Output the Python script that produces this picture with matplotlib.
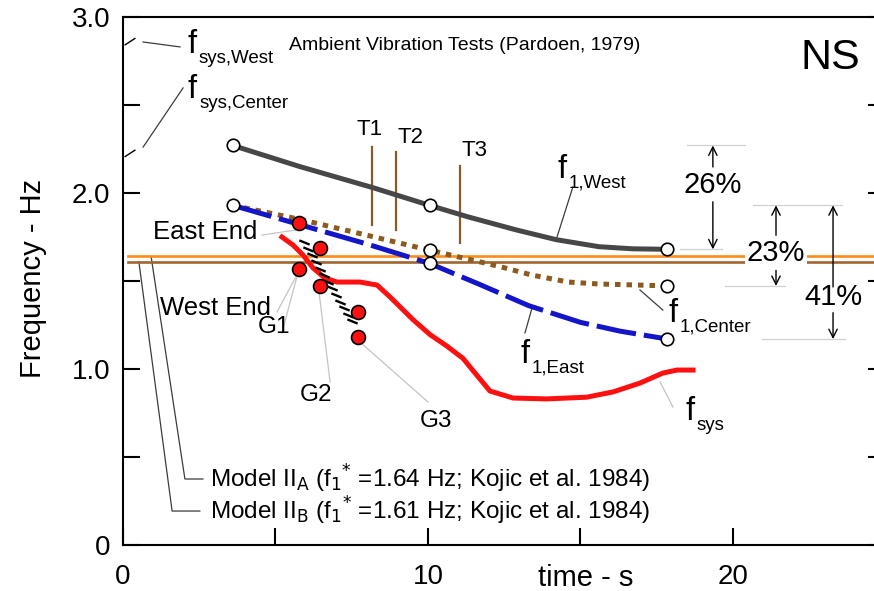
import matplotlib
matplotlib.use("Agg")
import matplotlib.pyplot as plt
import numpy as np

plt.rcParams["font.family"] = ["Liberation Sans", "DejaVu Sans"]
plt.rcParams["mathtext.fontset"] = "custom"
plt.rcParams["mathtext.rm"] = "Liberation Sans Narrow"

# first-mode frequency estimates along the building (time in s, frequency in Hz)
WEST_T = [3.6, 5.8, 8.2, 10.05, 11.3, 12.9, 14.2, 15.6, 16.7, 17.85]
WEST_F = [2.27, 2.15, 2.03, 1.93, 1.865, 1.79, 1.735, 1.695, 1.683, 1.68]

CENTER_T = [3.6, 5.8, 8.0, 10.05, 11.3, 12.4, 13.4, 14.6, 15.6, 16.7, 17.85]
CENTER_F = [1.93, 1.85, 1.76, 1.675, 1.625, 1.58, 1.534, 1.494, 1.483, 1.478, 1.472]

EAST_T = [3.6, 5.8, 8.0, 10.05, 11.7, 13.3, 15.0, 16.3, 17.85]
EAST_F = [1.93, 1.82, 1.71, 1.60, 1.48, 1.36, 1.265, 1.215, 1.17]

SYS_T = [5.21, 5.57, 5.9, 6.23, 6.62, 7.02, 7.77, 8.33, 8.75, 9.51, 10.07, 10.62,
         11.15, 11.48, 12.03, 12.79, 13.9, 15.21, 16.07, 16.95, 17.7, 18.16, 18.69]
SYS_F = [1.75, 1.705, 1.648, 1.574, 1.517, 1.494, 1.494, 1.477, 1.41, 1.28, 1.195, 1.13,
         1.06, 0.99, 0.875, 0.835, 0.83, 0.84, 0.87, 0.92, 0.977, 0.994, 0.994]

# strong-motion estimates G1..G3 at the two ends
G_T = [5.77, 6.45, 7.72]
G_EAST_F = [1.83, 1.688, 1.324]
G_WEST_F = [1.568, 1.472, 1.18]

# model predictions (Kojic et al. 1984)
MODEL_NAMES = ["A", "B"]
MODEL_F = [1.64, 1.61]

# T1..T3 markers
T_NAMES = ["T1", "T2", "T3"]
T_X = [8.18, 8.94, 11.05]
T_TOP = [2.26, 2.233, 2.153]
T_BOTTOM = [1.82, 1.79, 1.716]

# f_sys at t = 0 (West, Center)
FSYS0_F = [2.86, 2.225]

PCT_LABELS = ["26%", "23%", "41%"]

fig = plt.figure(figsize=(8.74, 5.91), dpi=100)
ax = fig.add_axes([123 / 874, 46 / 591, 762.5 / 874, 528 / 591])
ax.set_xlim(0, 25)
ax.set_ylim(0, 3)

ax.set_xticks([0, 5, 10, 15, 20, 25])
ax.set_xticklabels(["0", "", "10", "", "20", ""])
ax.set_yticks(np.arange(0, 3.01, 0.5))
ax.set_yticklabels(["0", "", "1.0", "", "2.0", "", "3.0"])
ax.tick_params(direction="in", length=12.5, width=1.5, labelsize=20, right=True, top=False)
ax.tick_params(axis="y", pad=9)
ax.tick_params(axis="x", pad=14)
for s in ax.spines.values():
    s.set_linewidth(1.5)
ax.spines["right"].set_visible(False)

fig.text(33 / 874, 1 - 278 / 591, "Frequency - Hz", rotation=90, fontsize=21, ha="center", va="center")
fig.text(586 / 874, 1 - 578 / 591, "time - s", fontsize=21, ha="center", va="center")

# model lines
model_colors = ["#ff8c1a", "#a0662e"]
for f, c in zip(MODEL_F, model_colors):
    ax.plot([0.16, 25], [f, f], color=c, lw=1.9, zorder=2)

# mode curves
ax.plot(WEST_T, WEST_F, color="#474747", lw=3.6, zorder=3)
ax.plot(CENTER_T, CENTER_F, color="#8c5a1e", lw=3.6, ls=(0, (1.1, 1.2)),
        dash_capstyle="butt", zorder=3)
ax.plot(EAST_T, EAST_F, color="#1414c8", lw=3.6, ls=(0, (8, 1.6)),
        dash_capstyle="butt", zorder=3)
ax.plot(SYS_T, SYS_F, color="#ff1010", lw=3.6, solid_joinstyle="round", zorder=3)

circ = dict(ls="none", marker="o", ms=9, mfc="white", mec="black", mew=1.2, zorder=6)
ax.plot([WEST_T[i] for i in (0, 3, -1)], [WEST_F[i] for i in (0, 3, -1)], **circ)
ax.plot([CENTER_T[i] for i in (0, 3, -1)], [CENTER_F[i] for i in (0, 3, -1)], **circ)
ax.plot([EAST_T[i] for i in (3, -1)], [EAST_F[i] for i in (3, -1)], **circ)

# hatched band between the end estimates
hx = np.linspace(5.95, 7.5, 13)
hy = np.linspace(1.72, 1.27, 13)
ax.plot(hx, hy, ls="none", marker=(2, 0, 68), ms=8, mew=1.7, color="black", zorder=4)

dot = dict(ls="none", marker="o", ms=10, mfc="#ff1010", mec="black", mew=1.2, zorder=7)
ax.plot(G_T, G_EAST_F, **dot)
ax.plot(G_T, G_WEST_F, **dot)

# T markers
for name, x, top, bot, lx, ly in zip(T_NAMES, T_X, T_TOP, T_BOTTOM,
                                     [8.1, 9.41, 11.54], [2.358, 2.318, 2.244]):
    ax.plot([x, x], [bot, top], color="#8b5a2b", lw=1.6, zorder=2)
    ax.text(lx, ly, name, fontsize=16, ha="center", va="center")

# f_sys at the start
for f in FSYS0_F:
    ax.plot([0.07, 0.39], [f - 0.018, f + 0.018], color="black", lw=1.0)

# leader lines
light = "#c4c4c4"
dark = "#3c3c3c"
leaders = [
    ((4.56, 1.761), (5.67, 1.79), light),
    ((5.05, 1.324), (5.70, 1.534), light),
    ((5.21, 1.205), (5.70, 1.523), light),
    ((6.43, 1.432), (6.79, 0.926), light),
    ((7.77, 1.153), (10.0, 0.8125), light),
    ((14.75, 2.034), (14.23, 1.75), dark),
    ((16.95, 1.449), (17.70, 1.335), dark),
    ((13.41, 1.347), (13.18, 1.205), dark),
    ((17.61, 0.926), (18.03, 0.784), light),
    ((0.66, 2.858), (1.87, 2.83), dark),
    ((0.66, 2.261), (1.97, 2.597), dark),
]
for (x0, y0), (x1, y1), c in leaders:
    ax.plot([x0, x1], [y0, y1], color=c, lw=0.9, zorder=1)

for f, (x0, xk, xe), yl in zip(MODEL_F, [(0.92, 2.03, 2.62), (0.52, 1.61, 2.52)], [0.375, 0.193]):
    ax.plot([x0, xk, xe], [f, yl, yl], color=dark, lw=0.9, zorder=1)

for name, f, yl in zip(MODEL_NAMES, MODEL_F, [0.375, 0.193]):
    ax.text(2.85, yl,
            f"Model II$_\\mathrm{{{name}}}$ (f$_\\mathrm{{1}}{{}}^\\mathrm{{*}}$ ={f:.2f} Hz; Kojic et al. 1984)",
            family=["Liberation Sans Narrow", "Liberation Sans"], fontsize=17.5, ha="left", va="center")

# text labels
ax.text(0.98, 1.778, "East End", fontsize=18.5, ha="left", va="center")
ax.text(1.21, 1.347, "West End", fontsize=18.5, ha="left", va="center")
for name, x, y in zip(["G1", "G2", "G3"], [4.95, 6.33, 10.26], [1.239, 0.852, 0.705]):
    ax.text(x, y, name, fontsize=17.5, ha="center", va="center")
ax.text(11.21, 2.84, "Ambient Vibration Tests (Pardoen, 1979)", fontsize=14, ha="center", va="center")
ax.text(23.2, 2.767, "NS", fontsize=31, ha="center", va="center")


def f_label(x, y, sub):
    ax.text(x, y, "f", fontsize=23.5, ha="left", va="baseline")
    ax.annotate(sub, (x, y), xytext=(8, -7), textcoords="offset points",
                fontsize=13.5, ha="left", va="baseline")


f_label(14.23, 2.085, "1,West")
f_label(17.87, 1.267, "1,Center")
f_label(13.02, 1.034, "1,East")
f_label(18.45, 0.71, "sys")
f_label(2.10, 2.795, "sys,West")
f_label(2.13, 2.54, "sys,Center")

# percentage drops
arrow = dict(arrowstyle="->,head_length=0.6,head_width=0.3", lw=1.0, color="black",
             shrinkA=0, shrinkB=0)
pct = [
    (19.34, WEST_F[0], WEST_F[-1], 2.045, 2.148, 1.95),
    (21.41, CENTER_F[0], CENTER_F[-1], 1.66, 1.76, 1.56),
    (23.28, EAST_F[0], EAST_F[-1], 1.41, 1.466, 1.32),
]
for label, (x, top, bot, ty, t_hi, t_lo) in zip(PCT_LABELS, pct):
    ax.annotate("", xy=(x, top), xytext=(x, t_hi), arrowprops=arrow)
    ax.annotate("", xy=(x, bot), xytext=(x, t_lo), arrowprops=arrow)
    ax.text(x, ty, label, fontsize=21, ha="center", va="center", zorder=5,
            bbox=dict(facecolor="white", edgecolor="none", pad=1) if label == "23%" else None)

guides = [(18.49, 20.39, WEST_F[0]), (18.26, 19.64, WEST_F[-1]), (20.66, 23.57, CENTER_F[0]),
          (19.74, 21.7, CENTER_F[-1]), (20.95, 23.67, EAST_F[-1])]
for x0, x1, y in guides:
    ax.plot([x0, x1], [y, y], color="#d0d0d0", lw=0.9, zorder=1)

fig.savefig("out.png", dpi=100)
